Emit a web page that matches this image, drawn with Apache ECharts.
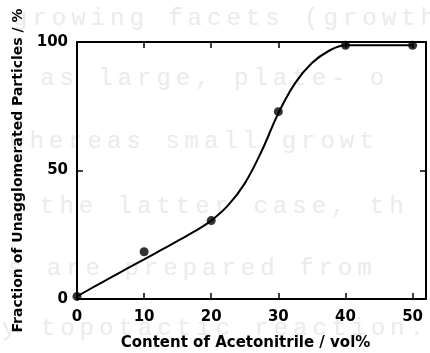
<!DOCTYPE html>
<html>
<head>
<meta charset="utf-8">
<script src="https://cdn.jsdelivr.net/npm/echarts@6.0.0/dist/echarts.min.js"></script>
<style>
  html, body { margin: 0; padding: 0; background: #ffffff; }
  #wrap { position: relative; width: 430px; height: 353px; overflow: hidden; }
  .ghost {
    position: absolute; white-space: pre;
    font-family: "Liberation Mono", "DejaVu Sans Mono", monospace;
    font-size: 24px; line-height: 24px; letter-spacing: 5px;
    color: #ebebeb;
  }
  #chart { position: absolute; left: 0; top: 0; width: 430px; height: 353px; }
</style>
</head>
<body>
<div id="wrap">
  <div class="ghost" style="left:13px; top:7px;">growing facets (growth</div>
  <div class="ghost" style="left:40px; top:67px;">as large, plate- o</div>
  <div class="ghost" style="left:10px; top:130px;">whereas small growt</div>
  <div class="ghost" style="left:40px; top:195px;">the latter case, th</div>
  <div class="ghost" style="left:8px; top:257px;">s are prepared from</div>
  <div class="ghost" style="left:2px; top:317px;">y topotactic reaction.</div>
  <div id="chart"></div>
</div>
<script>
// Measured points: acetonitrile content (vol%) vs. fraction unagglomerated (%)
const contentVol = [0, 10, 20, 30, 40, 50];
const fractionPct = [1, 18.4, 30.5, 72.9, 98.7, 98.7];

// Hand-drawn guide curve through the data
const curveX = [0, 2.5, 5, 7.5, 10, 12.5, 15, 17.5, 20, 22.5, 25, 27.5, 30, 32.5, 35, 37.5, 40, 45, 50];
const curveY = [1, 4.7, 8.3, 11.9, 15.4, 19.0, 22.6, 26.3, 30.5, 36.4, 45, 57.5, 72.3, 84, 91.8, 96.5, 98.7, 98.7, 98.7];

const xTitle = 'Content of Acetonitrile / vol%';
const yTitle = 'Fraction of Unagglomerated Particles / %';

const FONT = 'DejaVu Sans';
const chart = echarts.init(document.getElementById('chart'), null, { renderer: 'canvas' });

const axisLine = { show: true, onZero: false, lineStyle: { color: '#000', width: 2 } };
const tickIn = { show: true, inside: true, length: 6, lineStyle: { color: '#000', width: 1.5 } };

chart.setOption({
  backgroundColor: 'transparent',
  animation: false,
  grid: { left: 77, right: 4, top: 42, bottom: 54, containLabel: false, outerBoundsMode: 'none' },
  xAxis: [
    {
      type: 'value', position: 'bottom', min: 0, max: 52, interval: 10,
      axisLine: axisLine,
      axisTick: tickIn,
      splitLine: { show: false },
      axisLabel: {
        show: true, margin: 11, showMaxLabel: false,
        color: '#000', fontFamily: FONT, fontWeight: 'bold', fontSize: 15
      },
      name: xTitle, nameLocation: 'middle', nameGap: 37,
      nameTextStyle: { color: '#000', fontFamily: FONT, fontWeight: 'bold', fontSize: 15, padding: [0, 12, 0, 0] }
    },
    {
      type: 'value', position: 'top', min: 0, max: 52, interval: 10,
      axisLine: axisLine,
      axisTick: tickIn,
      splitLine: { show: false },
      axisLabel: { show: false }
    }
  ],
  yAxis: [
    {
      type: 'value', position: 'left', min: 0, max: 100, interval: 50,
      axisLine: axisLine,
      axisTick: tickIn,
      splitLine: { show: false },
      axisLabel: {
        show: true, margin: 9,
        color: '#000', fontFamily: FONT, fontWeight: 'bold', fontSize: 15
      },
      name: yTitle, nameLocation: 'middle', nameGap: 43, nameRotate: 90,
      nameTextStyle: { color: '#000', fontFamily: FONT, fontWeight: 'bold', fontSize: 14 }
    },
    {
      type: 'value', position: 'right', min: 0, max: 100, interval: 50,
      axisLine: axisLine,
      axisTick: tickIn,
      splitLine: { show: false },
      axisLabel: { show: false }
    }
  ],
  series: [
    {
      type: 'line', xAxisIndex: 0, yAxisIndex: 0,
      data: curveX.map((x, i) => [x, curveY[i]]),
      smooth: 0.4, showSymbol: false, symbol: 'none',
      lineStyle: { color: '#000', width: 2 },
      clip: false, z: 3
    },
    {
      type: 'scatter', xAxisIndex: 0, yAxisIndex: 0,
      data: contentVol.map((x, i) => [x, fractionPct[i]]),
      symbol: 'circle', symbolSize: 9,
      itemStyle: { color: '#000' },
      clip: false, z: 4
    }
  ]
});
</script>
</body>
</html>
